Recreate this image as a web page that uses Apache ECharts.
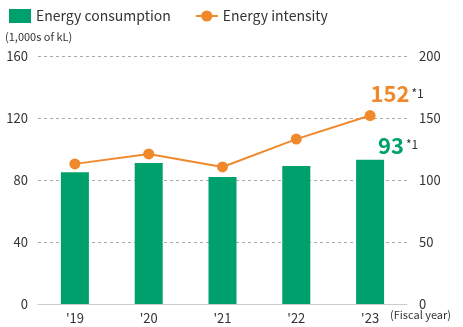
<!DOCTYPE html>
<html>
<head>
<meta charset="utf-8">
<script src="https://cdn.jsdelivr.net/npm/echarts@6/dist/echarts.min.js"></script>
<style>
  html, body { margin: 0; padding: 0; background: #fff; }
  #chart { width: 463px; height: 327px; }
</style>
</head>
<body>
<div id="chart"></div>
<script>
// Fiscal years and values
const years = ["'19", "'20", "'21", "'22", "'23"];
const consumption = [85, 91, 82, 89, 93];        // 1,000s of kL
const intensity = [113, 121, 110.5, 133, 152];   // intensity index

const leftTicks = { min: 0, max: 160, interval: 40 };
const rightTicks = { min: 0, max: 200, interval: 50 };

const GREEN = '#00a06c';
const ORANGE = '#f0892c';
const FONT = '"Noto Sans CJK JP", "Noto Sans", sans-serif';

const chart = echarts.init(document.getElementById('chart'));

const lastIdx = years.length - 1;

function valueLabel(v, color, offset) {
  return {
    show: true,
    position: 'top',
    offset: offset,
    formatter: '{n|' + v + '}{s|*1}',
    rich: {
      n: { fontSize: 22, fontWeight: 'bold', color: color, fontFamily: FONT },
      s: { fontSize: 12, color: '#333', fontFamily: FONT, padding: [0, 0, 2, 2] }
    }
  };
}

const barData = consumption.map((v, i) => i === lastIdx
  ? { value: v, label: valueLabel(v, GREEN, [28, 2]) } : v);

const lineData = intensity.map((v, i) => i === lastIdx
  ? { value: v, label: valueLabel(v, ORANGE, [27, 0]) } : v);

chart.setOption({
  animation: false,
  textStyle: { fontFamily: FONT },
  legend: {
    left: 4,
    top: 4,
    itemGap: 24,
    itemWidth: 22,
    itemHeight: 14,
    textStyle: { fontSize: 14, color: '#333', fontFamily: FONT },
    data: [
      { name: 'Energy consumption', icon: 'rect' },
      { name: 'Energy intensity' }
    ]
  },
  graphic: [
    {
      type: 'text',
      left: 5,
      top: 31,
      style: { text: '(1,000s of kL)', fontSize: 11, fill: '#333', fontFamily: FONT }
    },
    {
      type: 'text',
      left: 390,
      top: 309,
      style: { text: '(Fiscal year)', fontSize: 11, fill: '#333', fontFamily: FONT }
    }
  ],
  grid: { left: 38, right: 56, top: 56, bottom: 23 },
  xAxis: {
    type: 'category',
    data: years,
    axisLine: { lineStyle: { color: '#cccccc', width: 1 } },
    axisTick: { show: false },
    axisLabel: { fontSize: 13, color: '#333', margin: 8, fontFamily: FONT }
  },
  yAxis: [
    {
      type: 'value',
      min: leftTicks.min, max: leftTicks.max, interval: leftTicks.interval,
      position: 'left',
      axisLine: { show: false },
      axisTick: { show: false },
      axisLabel: { fontSize: 13, color: '#333', margin: 10, fontFamily: FONT },
      splitLine: { lineStyle: { color: '#aaa', type: [3, 3], width: 1 } }
    },
    {
      type: 'value',
      min: rightTicks.min, max: rightTicks.max, interval: rightTicks.interval,
      position: 'right',
      axisLine: { show: false },
      axisTick: { show: false },
      axisLabel: { fontSize: 13, color: '#333', margin: 12, fontFamily: FONT },
      splitLine: { show: false }
    }
  ],
  series: [
    {
      name: 'Energy consumption',
      type: 'bar',
      yAxisIndex: 0,
      barWidth: 28,
      itemStyle: { color: GREEN },
      data: barData,
      z: 2
    },
    {
      name: 'Energy intensity',
      type: 'line',
      yAxisIndex: 1,
      symbol: 'circle',
      symbolSize: 11,
      lineStyle: { color: ORANGE, width: 2 },
      itemStyle: { color: ORANGE },
      data: lineData,
      z: 3
    }
  ]
});
</script>
</body>
</html>
